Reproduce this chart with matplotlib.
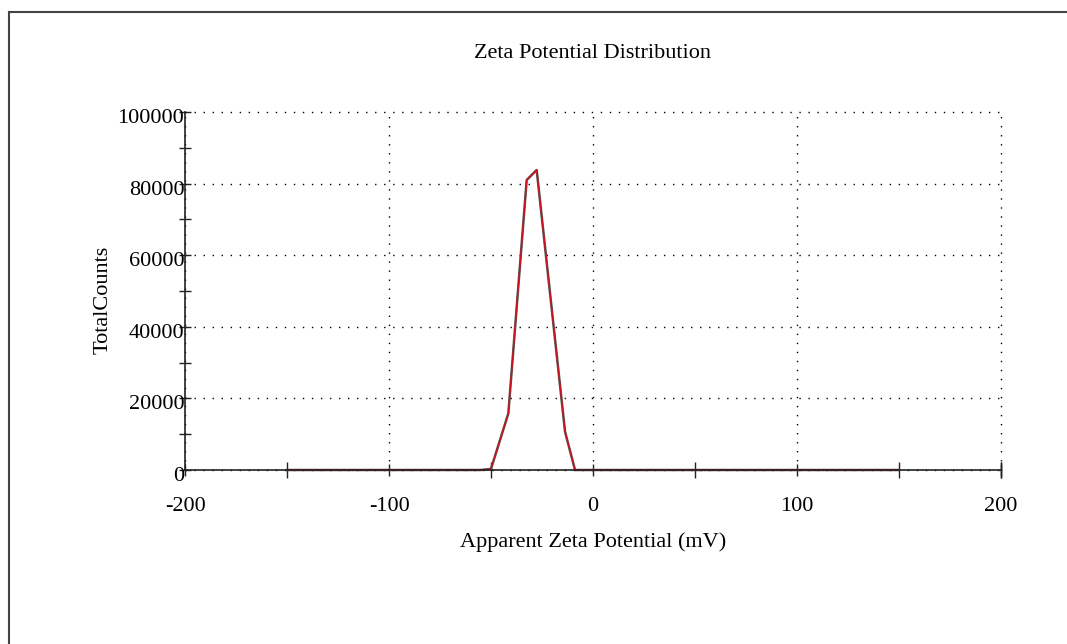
import matplotlib.pyplot as plt
import matplotlib.transforms as mtransforms
from matplotlib.ticker import MultipleLocator
from matplotlib.lines import Line2D

# Дані
zeta_mv = [-150, -55, -50, -41.5, -32.5, -27.6, -13.7, -8.8, 150]
total_counts = [0, 0, 300, 15800, 81000, 83800, 10700, 0, 0]

x_ticks = [-200, -100, 0, 100, 200]
y_ticks = [0, 20000, 40000, 60000, 80000, 100000]

plt.rcParams['font.family'] = ['Liberation Serif', 'DejaVu Serif']
plt.rcParams['axes.unicode_minus'] = False

fig = plt.figure(figsize=(10.67, 6.44), dpi=100)
ax = fig.add_axes([0.1734, 0.2702, 0.7647, 0.5559])

# Зовнішня рамка (обрізана праворуч і знизу)
fig.add_artist(Line2D([9 / 1067, 1.0], [1 - 12 / 644] * 2, color='#444444', lw=1.5))
fig.add_artist(Line2D([9 / 1067] * 2, [0.0, 1 - 12 / 644], color='#444444', lw=1.5))

ax.plot(zeta_mv, total_counts, color='#555555', lw=1.8, clip_on=False, zorder=3)
ax.plot(zeta_mv, total_counts, color='#d0101c', lw=1.0, clip_on=False, zorder=4)

ax.set_xlim(-200, 200)
ax.set_ylim(0, 100000)
ax.set_xticks(x_ticks)
ax.set_yticks(y_ticks)
ax.xaxis.set_minor_locator(MultipleLocator(50))
ax.yaxis.set_minor_locator(MultipleLocator(10000))

ax.grid(True, which='major', color='black', linestyle=(0, (1, 5.5)), lw=1.0, zorder=1)
for gl in ax.get_xgridlines() + ax.get_ygridlines():
    gl.set_clip_on(False)
for s in ['top', 'right']:
    ax.spines[s].set_visible(False)
for s in ['left', 'bottom']:
    ax.spines[s].set_color('#222222')
    ax.spines[s].set_linewidth(1.2)
    ax.spines[s].set_zorder(5)

ax.tick_params(which='both', direction='inout', length=9, width=1, color='#222222')
ax.tick_params(axis='y', which='major', pad=-4, labelsize=16)
ax.tick_params(axis='x', which='major', pad=15, labelsize=16)
ax.tick_params(axis='x', which='minor', length=11)
# кінцева риска осі X
ax.plot([200, 200], [0, 0], marker='|', ms=11, color='#222222', clip_on=False)

# підписи осі Y трохи нижче ліній сітки
shift = mtransforms.ScaledTranslation(0, -4 / 100, fig.dpi_scale_trans)
for lbl in ax.get_yticklabels():
    lbl.set_transform(lbl.get_transform() + shift)

ax.set_title('Zeta Potential Distribution', fontsize=16, pad=39)
ax.set_xlabel('Apparent Zeta Potential (mV)', fontsize=16, labelpad=12)
ax.set_ylabel('TotalCounts', fontsize=16)
ax.yaxis.set_label_coords(-0.089, 0.475)

fig.savefig('out.png', dpi=100, facecolor='white')
